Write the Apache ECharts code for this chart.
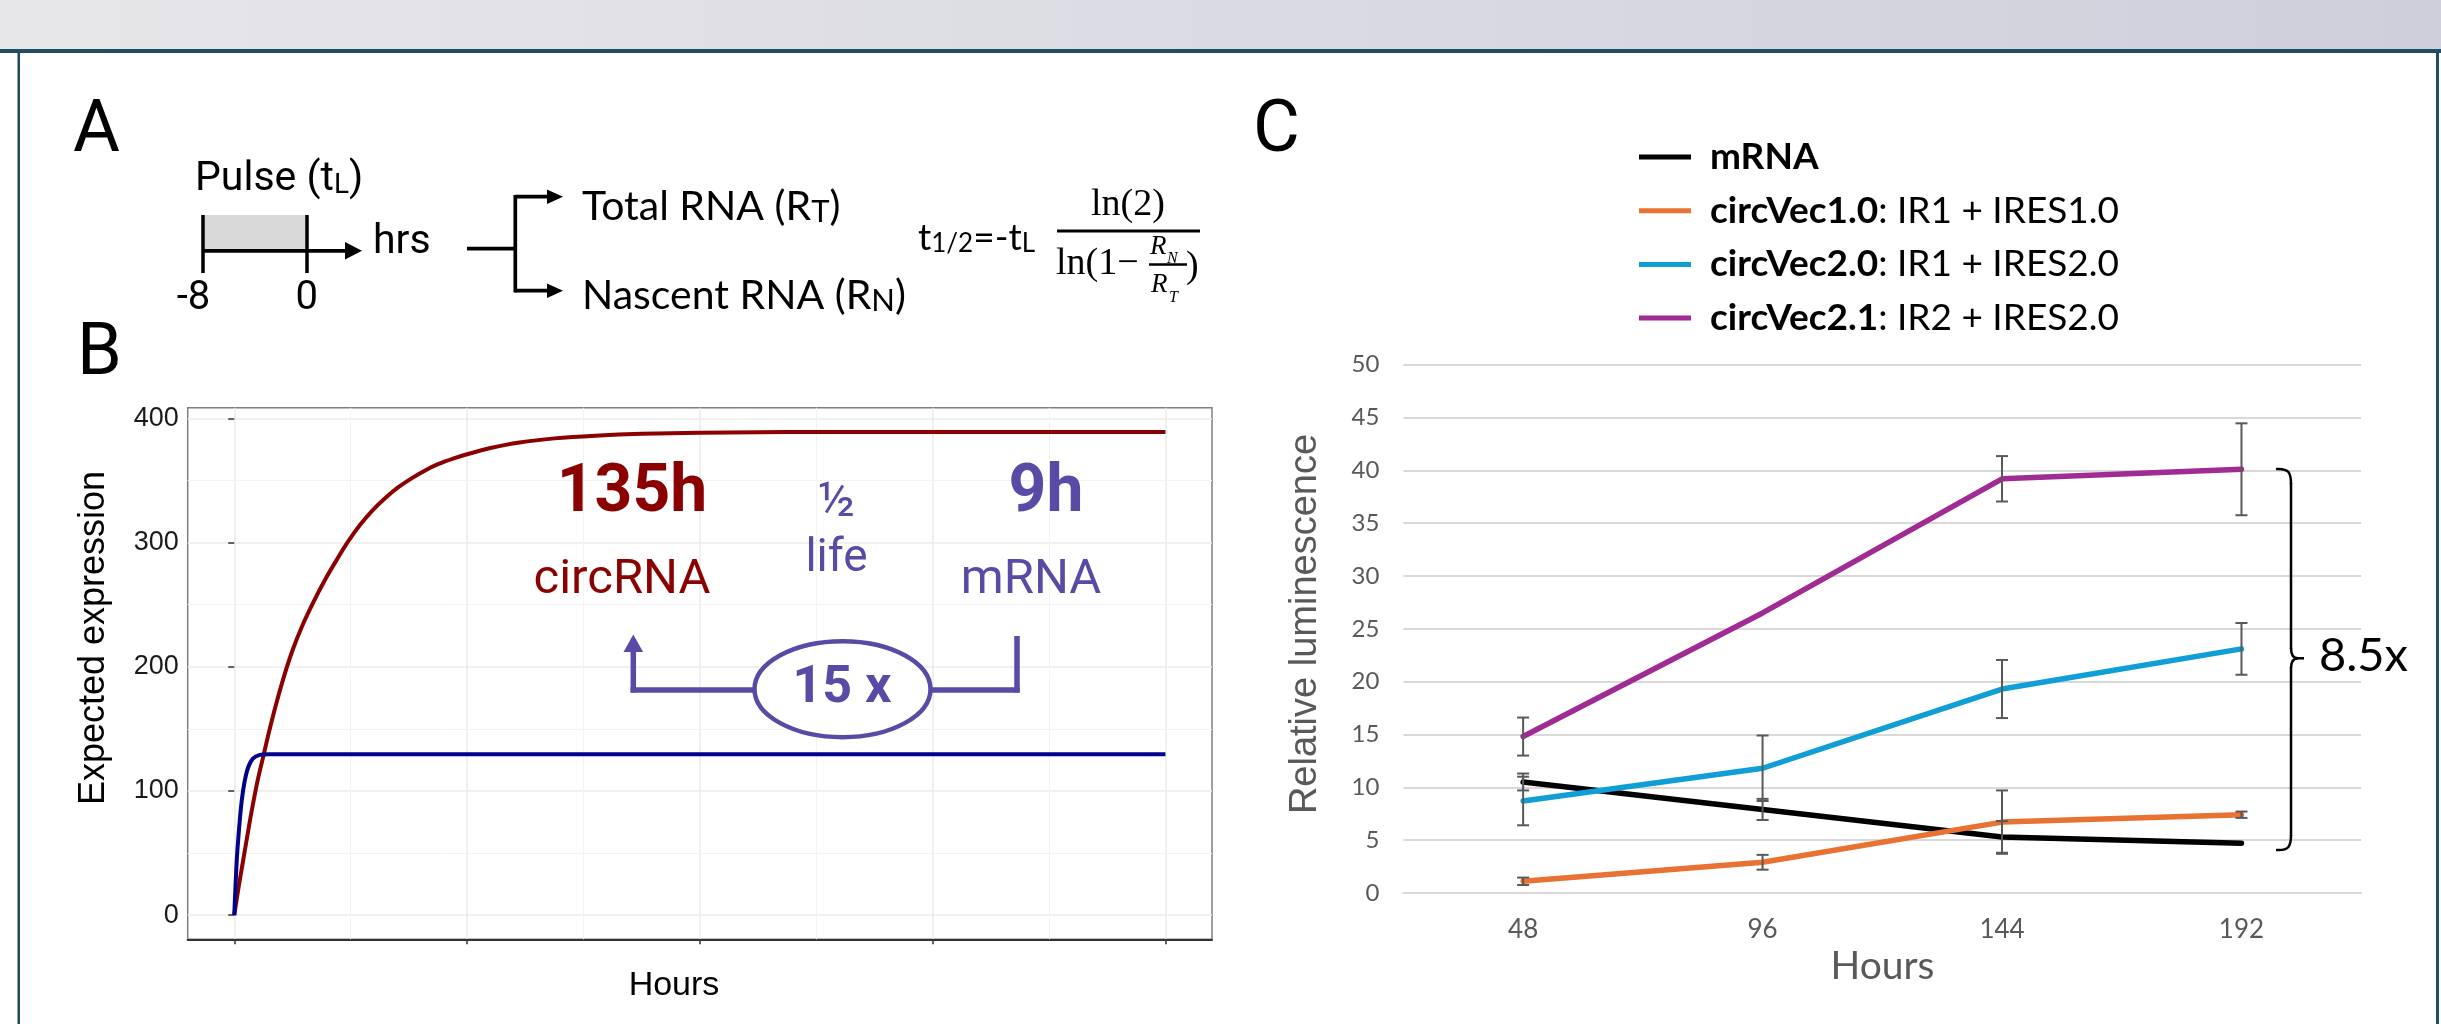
<!DOCTYPE html>
<html>
<head>
<meta charset="utf-8">
<script src="https://cdn.jsdelivr.net/npm/echarts@6/dist/echarts.min.js"></script>
<style>
html, body { margin: 0; padding: 0; background: #fff; }
#chart { width: 2441px; height: 1024px; }
</style>
</head>
<body>
<div id="chart"></div>
<script>
// ---- panel B: expected expression curves ----
const circHours = [0, 4, 8, 12, 15, 20, 25, 30, 36, 43, 50, 58, 68, 78, 88, 98, 108, 119, 130, 141,
    153, 164, 175, 188, 200, 220, 245, 275, 310, 350, 400, 450, 500, 600, 700, 800];
const circExpr = [0, 24, 46, 68, 84, 108, 128, 148, 170, 193, 213, 232, 252, 270, 286, 301, 314, 326, 336, 344.5,
    352, 358, 363, 367.5, 371, 376, 380.5, 383.8, 386, 387.5, 388.3, 388.7, 389, 389, 389, 389];
const mrnaHours = [0, 2, 4, 6.4, 9, 12, 16, 22, 30, 800];
const mrnaExpr = [0, 42, 68, 92, 108, 119, 126, 129, 129.5, 129.5];
const bTicksX = [0, 200, 400, 600, 800];
const bTicksY = [0, 100, 200, 300, 400];
const bMinorX = [100, 300, 500, 700];
const bMinorY = [50, 150, 250, 350];

// ---- panel C: relative luminescence ----
const hourLabels = ["48", "96", "144", "192"];
const vecNames = ["mRNA", "circVec1.0", "circVec2.0", "circVec2.1"];
const vecSuffix = ["", ": IR1 + IRES1.0", ": IR1 + IRES2.0", ": IR2 + IRES2.0"];
const vecColors = ["#000000", "#e97132", "#0f9ed5", "#a02b93"];
const lumMrna = [10.5, 7.9, 5.3, 4.7];
const lumVec10 = [1.1, 2.9, 6.7, 7.4];
const lumVec20 = [8.7, 11.8, 19.3, 23.1];
const lumVec21 = [14.8, 26.5, 39.2, 40.1];
const errMrna = [0.8, 1.0, 1.5, 0];
const errVec10 = [0.35, 0.7, 3.0, 0.3];
const errVec20 = [2.3, 3.1, 2.75, 2.45];
const errVec21 = [1.8, 0, 2.15, 4.35];

const lumAll = [lumMrna, lumVec10, lumVec20, lumVec21];
const errAll = [errMrna, errVec10, errVec20, errVec21];

const purple = "#5a4aa6";
const darkRed = "#8b0000";

// small helpers for the drawn annotations
const txt = (x, y, text, size, o = {}) => ({
    type: "text", x: x, y: y, rotation: o.rot || 0, silent: true, z: 50,
    style: {
        text: text, fontSize: size, fontFamily: o.font || "Roboto",
        fontWeight: o.weight || "normal", fontStyle: o.italic ? "italic" : "normal",
        fill: o.color || "#000", align: o.align || "left", verticalAlign: "middle"
    }
});
const seg = (x1, y1, x2, y2, color, w) => ({
    type: "line", silent: true, z: 50,
    shape: { x1: x1, y1: y1, x2: x2, y2: y2 },
    style: { stroke: color, lineWidth: w }
});
const curve = (x1, y1, c1x, c1y, c2x, c2y, x2, y2) => ({
    type: "bezierCurve", silent: true, z: 50,
    shape: { x1: x1, y1: y1, cpx1: c1x, cpy1: c1y, cpx2: c2x, cpy2: c2y, x2: x2, y2: y2 },
    style: { stroke: "#000", lineWidth: 2.5, fill: null }
});
const tri = (pts, color) => ({
    type: "polygon", silent: true, z: 50, shape: { points: pts }, style: { fill: color }
});
// text with subscripts: {n|..}{s|..}; capMid = vertical centre of capitals
const subTxt = (x, capMid, text, size, subSize, drop, font) => ({
    type: "text", x: x, y: capMid - 25, silent: true, z: 50,
    style: {
        text: text, fontFamily: font, verticalAlign: "top", align: "left",
        rich: {
            n: { fontSize: size, fontFamily: font, lineHeight: 50, verticalAlign: "bottom", fill: "#000" },
            s: { fontSize: subSize, fontFamily: font, lineHeight: 50 - 2 * drop, verticalAlign: "bottom", fill: "#000" }
        }
    }
});

const chart = echarts.init(document.getElementById("chart"));

const graphics = [
    // header band and frame
    {
        type: "rect", silent: true, z: -10, shape: { x: 0, y: 0, width: 2441, height: 49 },
        style: { fill: new echarts.graphic.LinearGradient(0, 0, 1, 0, [
            { offset: 0, color: "#e7e7ea" }, { offset: 1, color: "#cecfdb" }]) }
    },
    { type: "rect", silent: true, z: -9, shape: { x: 0, y: 49, width: 2441, height: 4 }, style: { fill: "#1f4d62" } },
    { type: "rect", silent: true, z: -9, shape: { x: 17.5, y: 49, width: 2.5, height: 975 }, style: { fill: "#1f4d62" } },
    { type: "rect", silent: true, z: -9, shape: { x: 2436, y: 49, width: 3, height: 975 }, style: { fill: "#1f4d62" } },

    // panel letters
    txt(73, 133, "A", 72),
    txt(77, 356, "B", 72),
    txt(1253, 133, "C", 72),

    // panel A: pulse diagram
    { type: "rect", silent: true, z: 49, shape: { x: 203, y: 215, width: 104, height: 35 }, style: { fill: "#d9d9d9" } },
    seg(203, 215, 203, 273, "#000", 3.5),
    seg(307, 215, 307, 273, "#000", 3.5),
    seg(203, 250.8, 347, 250.8, "#000", 3.7),
    tri([[345, 242], [362, 250.8], [345, 259.6]], "#000"),
    subTxt(195, 175, "{n|Pulse (t}{s|L}{n|)}", 41, 28, 14, "Roboto"),
    txt(373, 243, "hrs", 41),
    txt(193.5, 299, "-8", 40, { align: "center" }),
    txt(306.7, 299, "0", 40, { align: "center" }),
    seg(467, 248.7, 515.3, 248.7, "#000", 3.7),
    seg(515.3, 195, 515.3, 292.5, "#000", 3.7),
    seg(515.3, 196.7, 549, 196.7, "#000", 3.7),
    seg(515.3, 290.7, 549, 290.7, "#000", 3.7),
    tri([[547, 189.4], [563, 196.7], [547, 204]], "#000"),
    tri([[547, 283.4], [563, 290.7], [547, 298]], "#000"),
    subTxt(582, 202.5, "{n|Total RNA (R}{s|T}{n|)}", 41, 31, 12, "Lato"),
    subTxt(582, 291, "{n|Nascent RNA (R}{s|N}{n|)}", 41, 31, 12, "Lato"),
    subTxt(918, 232, "{n|t}{s|1/2}{n|=-t}{s|L}", 37, 26, 15, "Lato"),
    txt(1128, 205, "ln(2)", 38, { font: "Liberation Serif", align: "center" }),
    seg(1057, 231, 1200, 231, "#000", 3),
    txt(1056, 264, "ln(1\u2212", 38, { font: "Liberation Serif" }),
    txt(1150, 247, "R", 27, { font: "Liberation Serif", italic: true }),
    txt(1167, 259, "N", 16, { font: "Liberation Serif", italic: true }),
    seg(1149, 264.5, 1187, 264.5, "#000", 2.5),
    txt(1151, 285, "R", 27, { font: "Liberation Serif", italic: true }),
    txt(1169, 298, "T", 16, { font: "Liberation Serif", italic: true }),
    txt(1186, 267, ")", 38, { font: "Liberation Serif" }),

    // panel B: annotation
    txt(632, 494, "135h", 66, { weight: "bold", color: darkRed, align: "center" }),
    txt(622, 581, "circRNA", 49, { color: darkRed, align: "center" }),
    txt(836.5, 504, "\u00bd", 48, { color: purple, align: "center" }),
    txt(836.5, 559, "life", 46, { color: purple, align: "center" }),
    txt(1046, 494, "9h", 66, { weight: "bold", color: purple, align: "center" }),
    txt(1031, 581, "mRNA", 49, { color: purple, align: "center" }),
    seg(633.3, 648, 633.3, 692.5, purple, 5.5),
    seg(630.6, 690, 754, 690, purple, 5.5),
    tri([[623.5, 652], [633.3, 634.5], [643.1, 652]], purple),
    {
        type: "ellipse", silent: true, z: 50, shape: { cx: 842.5, cy: 689.2, rx: 88, ry: 48 },
        style: { stroke: purple, lineWidth: 4.5, fill: "#fff" }
    },
    txt(842, 688.5, "15 x", 52, { weight: "bold", color: purple, align: "center" }),
    seg(930.5, 690, 1019.7, 690, purple, 5.5),
    seg(1017, 692.5, 1017, 636, purple, 5.5),

    // panel B axis titles
    txt(94, 638, "Expected expression", 36, { font: "Liberation Sans", align: "center", rot: Math.PI / 2 }),
    txt(674, 986, "Hours", 34, { font: "Liberation Sans", align: "center" }),

    // panel C axis titles and bracket
    txt(1306, 624, "Relative luminescence", 38, { font: "Liberation Sans", color: "#595959", align: "center", rot: Math.PI / 2 }),
    txt(1882.5, 966.5, "Hours", 39, { font: "Lato", color: "#595959", align: "center" }),
    curve(2276, 469, 2289, 468, 2291, 473, 2291, 484),
    seg(2291, 483, 2291, 649, "#000", 2.5),
    curve(2291, 648, 2291, 655, 2293, 658.3, 2298, 658.3),
    seg(2296, 658.3, 2304, 658.3, "#000", 2.5),
    curve(2298, 658.3, 2293, 658.5, 2291, 662, 2291, 668),
    seg(2291, 667, 2291, 836, "#000", 2.5),
    curve(2291, 835, 2291, 846, 2289, 851, 2276, 850),
    txt(2319, 656, "8.5x", 47, { font: "Lato" })
];

const cSeries = vecNames.map((name, k) => ({
    name: name,
    type: "line",
    xAxisIndex: 1,
    yAxisIndex: 1,
    data: lumAll[k],
    showSymbol: false,
    symbol: "none",
    color: vecColors[k],
    lineStyle: { color: vecColors[k], width: 5.5, cap: "round", join: "round" },
    z: 3 + k
}));

const errData = [];
for (let k = 0; k < lumAll.length; k++) {
    for (let i = 0; i < lumAll[k].length; i++) {
        if (errAll[k][i] > 0) {
            errData.push([i, lumAll[k][i] - errAll[k][i], lumAll[k][i] + errAll[k][i]]);
        }
    }
}

const option = {
    animation: false,
    backgroundColor: "#ffffff",
    grid: [
        {
            left: 187.7, top: 407.7, right: 1229, bottom: 84.7,
            outerBoundsMode: "none", containLabel: false,
            show: true, backgroundColor: "#fff", borderColor: "#7f7f7f", borderWidth: 1.5
        },
        {
            left: 1403.4, top: 364.7, right: 79.8, bottom: 131.1,
            outerBoundsMode: "none", containLabel: false
        }
    ],
    xAxis: [
        {
            type: "value", gridIndex: 0, min: -40, max: 840, minInterval: 200, maxInterval: 200,
            axisLine: { show: true, onZero: false, lineStyle: { color: "#333", width: 2 } },
            axisTick: { show: true, length: 5, customValues: bTicksX, lineStyle: { color: "#333", width: 1.5 } },
            axisLabel: { show: false },
            splitLine: { show: true, lineStyle: { color: "#ebebeb", width: 1.5 } }
        },
        {
            type: "category", gridIndex: 1, data: hourLabels, boundaryGap: true,
            axisLine: { show: true, lineStyle: { color: "#d9d9d9", width: 2 } },
            axisTick: { show: false },
            axisLabel: { color: "#595959", fontSize: 26, fontFamily: "Lato", margin: 24 },
            splitLine: { show: false }
        }
    ],
    yAxis: [
        {
            type: "value", gridIndex: 0, min: -19.5, max: 408.5, minInterval: 100, maxInterval: 100,
            axisLine: { show: false },
            axisTick: { show: true, length: 6, customValues: bTicksY, lineStyle: { color: "#333", width: 1.5 } },
            axisLabel: {
                color: "#1a1a1a", fontSize: 27, fontFamily: "Liberation Sans", margin: 9,
                showMinLabel: false, showMaxLabel: false
            },
            splitLine: { show: true, lineStyle: { color: "#ebebeb", width: 1.5 } }
        },
        {
            type: "value", gridIndex: 1, min: 0, max: 50, interval: 5,
            axisLine: { show: false },
            axisTick: { show: false },
            axisLabel: { color: "#595959", fontSize: 24, fontFamily: "Lato", margin: 24 },
            splitLine: { show: true, lineStyle: { color: "#d9d9d9", width: 2 } }
        }
    ],
    legend: {
        data: vecNames,
        orient: "vertical",
        left: 1634,
        top: 132,
        icon: "rect",
        itemWidth: 52,
        itemHeight: 5,
        itemGap: 13.7,
        selectedMode: false,
        formatter: name => {
            const k = vecNames.indexOf(name);
            return "{b|" + name + "}" + (vecSuffix[k] ? "{r|" + vecSuffix[k] + "}" : "");
        },
        textStyle: {
            fontFamily: "Lato", fontSize: 37, color: "#000", lineHeight: 40,
            rich: {
                b: { fontFamily: "Lato", fontSize: 37, fontWeight: "bold", color: "#000", lineHeight: 40, padding: [0, 0, 0, 14] },
                r: { fontFamily: "Lato", fontSize: 37, color: "#000", lineHeight: 40 }
            }
        }
    },
    graphic: { elements: graphics },
    series: [
        {
            name: "circRNA expected",
            type: "line",
            xAxisIndex: 0,
            yAxisIndex: 0,
            data: circHours.map((h, i) => [h, circExpr[i]]),
            showSymbol: false,
            smooth: 0.3,
            lineStyle: { color: darkRed, width: 4 },
            z: 3,
            markLine: {
                silent: true,
                z: 1,
                symbol: ["none", "none"],
                label: { show: false },
                lineStyle: { color: "#f3f3f3", width: 1, type: "solid" },
                data: bMinorX.map(v => ({ xAxis: v })).concat(bMinorY.map(v => ({ yAxis: v })))
            }
        },
        {
            name: "mRNA expected",
            type: "line",
            xAxisIndex: 0,
            yAxisIndex: 0,
            data: mrnaHours.map((h, i) => [h, mrnaExpr[i]]),
            showSymbol: false,
            smooth: 0.25,
            lineStyle: { color: "#00008b", width: 4 },
            z: 4
        }
    ].concat(cSeries).concat([
        {
            name: "error bars",
            type: "custom",
            xAxisIndex: 1,
            yAxisIndex: 1,
            z: 10,
            silent: true,
            encode: { x: 0, y: [1, 2] },
            data: errData,
            renderItem: (params, api) => {
                const lo = api.coord([api.value(0), api.value(1)]);
                const hi = api.coord([api.value(0), api.value(2)]);
                const w = 6;
                const st = { stroke: "#595959", lineWidth: 2 };
                return {
                    type: "group",
                    children: [
                        { type: "line", shape: { x1: lo[0], y1: lo[1], x2: hi[0], y2: hi[1] }, style: st },
                        { type: "line", shape: { x1: lo[0] - w, y1: lo[1], x2: lo[0] + w, y2: lo[1] }, style: st },
                        { type: "line", shape: { x1: hi[0] - w, y1: hi[1], x2: hi[0] + w, y2: hi[1] }, style: st }
                    ]
                };
            }
        }
    ])
};

chart.setOption(option);
</script>
</body>
</html>
